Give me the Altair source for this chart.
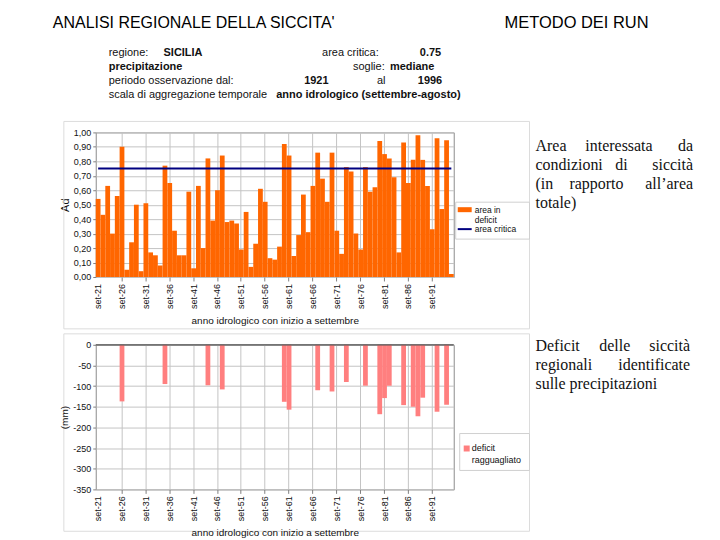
import altair as alt
import pandas as pd

# ---------------- data ----------------
years = list(range(1921, 1996))
labels = ["set-%02d" % (y % 100) for y in years]
tick_labels = labels[::5]

ad = [0.54, 0.43, 0.63, 0.30, 0.56, 0.90, 0.05, 0.24, 0.50, 0.04,
      0.51, 0.17, 0.15, 0.08, 0.77, 0.65, 0.32, 0.15, 0.15, 0.59,
      0.06, 0.63, 0.20, 0.82, 0.39, 0.60, 0.84, 0.38, 0.39, 0.37,
      0.19, 0.45, 0.07, 0.23, 0.61, 0.52, 0.13, 0.12, 0.21, 0.92,
      0.84, 0.145, 0.29, 0.57, 0.31, 0.63, 0.86, 0.68, 0.52, 0.86,
      0.32, 0.16, 0.76, 0.73, 0.30, 0.19, 0.76, 0.59, 0.62, 0.94,
      0.85, 0.82, 0.69, 0.17, 0.93, 0.65, 0.81, 0.98, 0.81, 0.63,
      0.33, 0.96, 0.47, 0.945, 0.02]
critical = 0.75

def_years = [1926, 1935, 1944, 1947, 1960, 1961, 1967, 1970, 1973, 1977,
             1980, 1981, 1982, 1985, 1987, 1988, 1989, 1992, 1994]
def_vals = [-137, -95, -98, -108, -138, -157, -110, -113, -90, -99,
            -168, -129, -99, -146, -150, -173, -128, -162, -145]

ad_ticks = [0.0, 0.1, 0.2, 0.3, 0.4, 0.5, 0.6, 0.7, 0.8, 0.9, 1.0]
mm_ticks = [-350, -300, -250, -200, -150, -100, -50, 0]

top_df = pd.DataFrame({"lab": labels, "ad": ad, "crit": [critical] * len(labels)})
bot_df = pd.DataFrame({"lab": ["set-%02d" % (y % 100) for y in def_years], "deficit": def_vals})
tick_df = pd.DataFrame({"lab": tick_labels})
one = pd.DataFrame({"a": [0]})

# ---------------- style ----------------
SANS = "Liberation Sans"
SERIF = "Liberation Serif"
ORANGE = "#FF6600"
NAVY = "#000080"
PINK = "#FF7F7F"
GRID = "#c4c4c4"
OX, OY = 95, 131  # page position of the top plot's origin
PH = 145          # plot height
XTITLE = "anno idrologico con inizio a settembre"


def T(s, px, py, size=11, weight="normal", align="left", font=SANS, color="#111111"):
    return alt.Chart(one).mark_text(
        text=s, fontSize=size, fontWeight=weight, align=align, font=font,
        color=color, baseline="alphabetic"
    ).encode(x=alt.value(px - OX), y=alt.value(py - OY))


def R(x1, y1, x2, y2, **kw):
    return alt.Chart(one).mark_rect(**kw).encode(
        x=alt.value(x1 - OX), x2=alt.value(x2 - OX),
        y=alt.value(y1 - OY), y2=alt.value(y2 - OY))


def xaxis():
    return alt.Axis(values=tick_labels, labels=False,
                    tickSize=4, grid=True, gridColor=GRID,
                    tickColor="#808080", titleFontSize=10,
                    titlePadding=34, domain=False)


def yaxis(vals, expr, fs):
    return alt.Axis(values=vals, labelExpr=expr, grid=True, gridColor=GRID,
                    tickSize=3, tickColor="#808080", labelPadding=2, labelFontSize=9,
                    titleFontSize=fs, titlePadding=3, domain=False,
                    labelOverlap=False, labelFlush=False, labelBound=40)


def xlabels():
    # category tick labels, placed through the shared band scale
    return alt.Chart(tick_df).mark_text(
        angle=270, align="right", baseline="middle", fontSize=9, font=SANS,
        color="#111111"
    ).encode(x=alt.X("lab:N", scale=xscale, axis=xaxis(), title=XTITLE),
             text="lab:N", y=alt.value(PH + 7))


xscale = alt.Scale(domain=labels, paddingInner=0, paddingOuter=0)
ad_scale = alt.Scale(domain=[0, 1], nice=False)
ad_axis = yaxis(ad_ticks, "replace(format(datum.value, '.2f'), '.', ',')", 11)

# ---------------- top chart ----------------
bars = alt.Chart(top_df).mark_bar(color=ORANGE).encode(
    x=alt.X("lab:N", scale=xscale, axis=xaxis(), title=XTITLE),
    y=alt.Y("ad:Q", scale=ad_scale, axis=ad_axis, title="Ad"))
crit_line = alt.Chart(top_df).mark_line(color=NAVY, strokeWidth=2).encode(
    x=alt.X("lab:N", scale=xscale, axis=xaxis(), title=XTITLE),
    y=alt.Y("crit:Q", scale=ad_scale, axis=ad_axis, title="Ad"))

decor = [
    R(8, 8, 712, 532, opacity=0),  # page extent
    R(63, 120, 530, 328, fillOpacity=0, stroke="#dcdcdc", strokeWidth=1),
    R(63, 333, 530, 531, fillOpacity=0, stroke="#dcdcdc", strokeWidth=1),
]
FS = 16
texts = [
    T("ANALISI REGIONALE DELLA SICCITA'", 52, 26, size=16, color="#000000"),
    T("METODO DEI RUN", 505, 26, size=16.5, color="#000000"),
    T("regione:", 108, 54, size=11),
    T("SICILIA", 163, 54, size=11, weight="bold"),
    T("area critica:", 322, 54, size=11),
    T("0.75", 420, 54, size=11, weight="bold"),
    T("precipitazione", 108, 68, size=11, weight="bold"),
    T("soglie:", 353, 68, size=11),
    T("mediane", 390, 68, size=11, weight="bold"),
    T("periodo osservazione dal:", 108, 82, size=11),
    T("1921", 304, 82, size=11, weight="bold"),
    T("al", 377, 82, size=11),
    T("1996", 418, 82, size=11, weight="bold"),
    T("scala di aggregazione temporale", 108, 96, size=11),
    T("anno idrologico (settembre-agosto)", 276, 96, size=11, weight="bold"),
    # right-hand description (justified)
    T("Area", 536, 150, size=FS, font=SERIF),
    T("interessata", 586, 150, size=FS, font=SERIF),
    T("da", 694, 150, size=FS, font=SERIF, align="right"),
    T("condizioni", 536, 169, size=FS, font=SERIF),
    T("di", 616, 169, size=FS, font=SERIF),
    T("siccità", 694, 169, size=FS, font=SERIF, align="right"),
    T("(in", 536, 188, size=FS, font=SERIF),
    T("rapporto", 570, 188, size=FS, font=SERIF),
    T("all’area", 694, 188, size=FS, font=SERIF, align="right"),
    T("totale)", 536, 207, size=FS, font=SERIF),
    T("Deficit", 536, 350, size=FS, font=SERIF),
    T("delle", 600, 350, size=FS, font=SERIF),
    T("siccità", 691, 350, size=FS, font=SERIF, align="right"),
    T("regionali", 536, 369, size=FS, font=SERIF),
    T("identificate", 691, 369, size=FS, font=SERIF, align="right"),
    T("sulle precipitazioni", 536, 388, size=FS, font=SERIF),
    # top legend
    T("area in", 475, 212, size=8.5),
    T("deficit", 475, 222, size=8.5),
    T("area critica", 475, 231, size=8.5),
    # bottom legend
    T("deficit", 472, 451, size=9),
    T("ragguagliato", 472, 463, size=9),
]
legend_marks = [
    R(456, 201, 530, 238, fill="white", stroke="#d0d0d0", strokeWidth=1),
    R(458, 206, 472, 211, fill=ORANGE),
    R(458, 227, 472, 229, fill=NAVY),
    R(460, 433, 530, 470, fill="white", stroke="#d0d0d0", strokeWidth=1),
    R(464, 445, 470, 451, fill=PINK),
]

top = alt.layer(*decor, bars, crit_line, xlabels(), *legend_marks, *texts).properties(
    width=359, height=PH)

# ---------------- bottom chart ----------------
mm_scale = alt.Scale(domain=[-350, 0], nice=False)
mm_axis = yaxis(mm_ticks, "datum.value + ''", 10)
bbars = alt.Chart(bot_df).mark_bar(color=PINK).encode(
    x=alt.X("lab:N", scale=xscale, axis=xaxis(), title=XTITLE),
    y=alt.Y("deficit:Q", scale=mm_scale, axis=mm_axis, title="(mm)"))
zero_line = alt.Chart(one).mark_rule(color="#505050", strokeWidth=1.2).encode(
    y=alt.datum(0, scale=mm_scale, axis=mm_axis, title="(mm)"))

bottom = alt.layer(bbars, zero_line, xlabels()).properties(width=359, height=PH)

chart = alt.vconcat(top, bottom, spacing=68, bounds="flush").properties(
    padding=0
).configure_view(stroke="#8c8c8c").configure_axis(
    labelFont=SANS, titleFont=SANS, labelColor="#111111", titleColor="#111111",
    titleFontWeight="normal", labelOverlap=False, labelBound=40, labelFlush=False,
    gridColor=GRID)

chart.save("out.html", embed_options={"renderer": "svg", "actions": False})
